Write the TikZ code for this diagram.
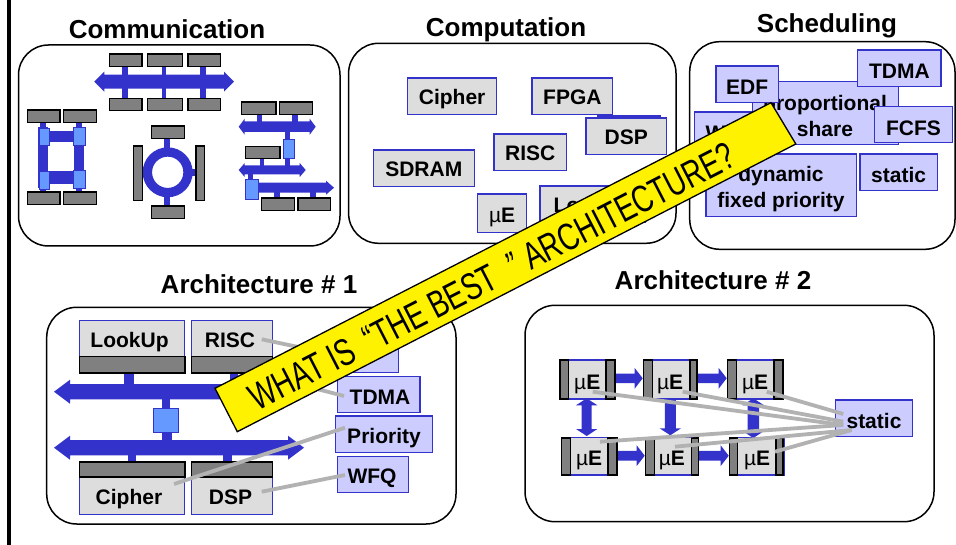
\documentclass[tikz,border=0pt]{standalone}
\usepackage{fontspec}
\setmainfont{Liberation Sans}
\definecolor{busblue}{HTML}{3333CC}
\definecolor{lightblue}{HTML}{6699FF}
\definecolor{lav}{HTML}{CCCCFF}
\definecolor{pegray}{HTML}{DDDDDD}
\definecolor{bargray}{HTML}{808080}
\definecolor{wire}{HTML}{B2B2B2}
\newcommand\ubx[7]{\node[#6,anchor=north west,minimum width={(#4-(#2))*1pt},minimum height={(#5-(#3))*1pt}] (#1) at (#2,#3) {#7};}
\newcommand\hbus[6]{\fill[busblue] (#1,#3) -- (#1+#6,#3-#5) -- (#1+#6,#3-#4) -- (#2-#6,#3-#4) -- (#2-#6,#3-#5) -- (#2,#3) -- (#2-#6,#3+#5) -- (#2-#6,#3+#4) -- (#1+#6,#3+#4) -- (#1+#6,#3+#5) -- cycle;}
\newcommand\rbus[6]{\fill[busblue] (#1,#3-#4) -- (#2-#6,#3-#4) -- (#2-#6,#3-#5) -- (#2,#3) -- (#2-#6,#3+#5) -- (#2-#6,#3+#4) -- (#1,#3+#4) -- cycle;}
\newcommand\vbus[6]{\fill[busblue] (#3,#1) -- (#3-#5,#1+#6) -- (#3-#4,#1+#6) -- (#3-#4,#2-#6) -- (#3-#5,#2-#6) -- (#3,#2) -- (#3+#5,#2-#6) -- (#3+#4,#2-#6) -- (#3+#4,#1+#6) -- (#3+#5,#1+#6) -- cycle;}
\newcommand\dnbus[6]{\fill[busblue] (#3-#4,#1) -- (#3-#4,#2-#6) -- (#3-#5,#2-#6) -- (#3,#2) -- (#3+#5,#2-#6) -- (#3+#4,#2-#6) -- (#3+#4,#1) -- cycle;}
\newcommand\stub[4]{\fill[busblue] (#1,#3) rectangle (#2,#4);}
\newcommand\mue{{\mdseries µ}E}
\tikzset{
 x=1pt,y=-1pt,
 frame/.style={draw=black,line width=1.5pt,rounded corners=30pt,fill=white},
 title/.style={font=\fontsize{26}{29}\selectfont\bfseries,inner sep=0pt,text height=19pt,text depth=0pt},
 lbl/.style={font=\fontsize{21}{25}\selectfont\bfseries,inner sep=0pt,align=center,text=black,text height=15pt,text depth=0pt},
 pe/.style={draw=busblue,line width=1.4pt,fill=pegray,lbl,text height=17pt},
 lowered/.style={text height=19pt},
 sched/.style={draw=busblue,line width=1.4pt,fill=lav,lbl,text height=21pt},
 twoline/.style={font=\fontsize{21}{25}\selectfont\bfseries,inner sep=0pt,align=center,text=black},
 bar/.style={draw=black,line width=1.5pt,fill=bargray,inner sep=0pt},
 ctrl/.style={draw=busblue,line width=1pt,fill=lightblue,inner sep=0pt},
 wireline/.style={draw=wire,line width=3.8pt},
}
\begin{document}
\begin{tikzpicture}
\useasboundingbox (0,0) rectangle (956,545);
\fill[white] (0,0) rectangle (956,545);
\fill[black] (7.3,0) rectangle (10.7,545);

% ---------- Communication
\node[title] (tcomm) at (167,29) {Communication};
\path[frame] (18.5,45) rectangle (340,246);
\hbus{94.3}{234}{81.7}{7}{10}{10}
\stub{122}{128}{65}{98}\stub{162}{166}{65}{98}\stub{200}{206}{65}{98}
\ubx{c1}{108.7}{53.3}{141.3}{65.7}{bar}{}
\ubx{c2}{146.7}{53.3}{181.7}{65.7}{bar}{}
\ubx{c3}{187}{53.3}{219.7}{65.7}{bar}{}
\ubx{c4}{108.7}{97.7}{141.3}{110}{bar}{}
\ubx{c5}{146.7}{97.7}{181.7}{110}{bar}{}
\ubx{c6}{187}{97.7}{219.7}{110}{bar}{}
% square
\stub{40}{46}{122}{127}\stub{76}{82}{122}{127}\stub{40}{46}{188}{192}\stub{76}{82}{188}{192}
\stub{38.3}{48}{127}{188}\stub{74}{84}{127}{188}
\stub{48}{74}{130.7}{142}\stub{48}{74}{170.7}{184}
\ubx{c7}{26.7}{109.3}{59.3}{122}{bar}{}
\ubx{c8}{62.7}{109.3}{95.7}{122}{bar}{}
\ubx{c9}{26.7}{191.3}{59.3}{204}{bar}{}
\ubx{c10}{62.7}{191.3}{95.7}{204}{bar}{}
\ubx{s1}{39.3}{128}{49.3}{144.7}{ctrl}{}
\ubx{s2}{73.3}{127.3}{85.3}{145.3}{ctrl}{}
\ubx{s3}{39.3}{170.7}{48.7}{188.7}{ctrl}{}
\ubx{s4}{73.3}{170}{85.3}{188}{ctrl}{}
% ring
\stub{164.3}{170.3}{138}{150}\stub{164.3}{170.3}{195}{205.3}\stub{141}{146}{169.3}{176}\stub{190}{195}{169.3}{176}
\draw[busblue,line width=9.3pt] (167.7,172.3) circle (20.3);
\ubx{c11}{150.7}{125.3}{183.7}{138}{bar}{}
\ubx{c12}{150.7}{205.3}{183.7}{218}{bar}{}
\ubx{c13}{132.7}{145.3}{141.7}{200}{bar}{}
\ubx{c14}{195}{145.3}{203.7}{200}{bar}{}
% hierarchical
\hbus{238.7}{315.7}{126.7}{5.3}{8}{6}
\hbus{238.7}{305.7}{170}{4.5}{7}{6}
\rbus{250}{334}{187.7}{5}{7}{8}
\stub{256.7}{262}{114}{122}\stub{292.3}{297.7}{114}{122}
\stub{285}{290}{132}{140}\stub{285}{290}{157}{166}
\stub{260}{264.3}{158}{166}\stub{248}{253}{174}{180}
\stub{274.3}{280}{192}{198}\stub{310.3}{316}{192}{198}
\ubx{c15}{240.7}{101.3}{275.3}{114}{bar}{}
\ubx{c16}{278.7}{101.3}{311.7}{114}{bar}{}
\ubx{c17}{244.7}{145.7}{279.3}{158}{bar}{}
\ubx{c18}{260.7}{197.3}{293.7}{210}{bar}{}
\ubx{c19}{297}{197.3}{329.7}{210}{bar}{}
\ubx{s5}{282.7}{139.3}{294}{158}{ctrl}{}
\ubx{s6}{244.7}{179.3}{257.7}{198.7}{ctrl}{}

% ---------- Computation
\node[title] (tcomp) at (506,27.5) {Computation};
\path[frame] (348.6,43.3) rectangle (676,243.3);
\ubx{p1}{406.8}{77.3}{496}{114}{pe}{Cipher}
\ubx{p2}{531.4}{77.3}{612}{114}{pe}{FPGA}
\ubx{p3}{597}{115.3}{660}{130}{pe}{}
\ubx{p4}{585.2}{117.3}{666}{154}{pe}{DSP}
\ubx{p5}{493.2}{133.3}{566}{170}{pe}{RISC}
\ubx{p6}{372.6}{149.3}{473.6}{186}{pe}{SDRAM}
\ubx{p7}{477}{193.3}{525.9}{232}{pe,lowered}{\mue}
\ubx{p8}{539.2}{185.3}{645}{222}{pe}{LookUp}

% ---------- Scheduling
\node[title] (tsch) at (827,23.5) {Scheduling};
\path[frame] (689.7,41.7) rectangle (955,249.3);
\ubx{q1}{751.8}{81}{898}{144}{sched}{}
\node[twoline] (q1t) at (825,116) {proportional\\[1pt]share};
\ubx{q2}{693.6}{111.3}{765}{148}{sched}{WFQ}
\ubx{q3}{715.2}{65.3}{777.7}{102}{sched}{EDF}
\ubx{q4}{857}{49.3}{940.4}{86}{sched}{TDMA}
\ubx{q5}{873.6}{105.7}{952}{142}{sched}{FCFS}
\ubx{q6}{705.4}{153.3}{855.5}{216}{sched}{}
\node[twoline] (q6t) at (781,189.5) {dynamic\\[1pt]fixed priority};
\ubx{q7}{859.4}{153.3}{936.5}{190}{sched}{static}

% ---------- Architecture 1
\node[title] (ta1) at (259,284) {Architecture \# 1};
\path[frame] (46.7,307.3) rectangle (456,524);
\hbus{54}{304}{391.7}{7.7}{12}{16}
\hbus{54}{304}{447.7}{7.7}{12}{16}
\stub{124.3}{134}{372}{384}\stub{230}{238}{372}{384}
\stub{162.3}{170}{398}{408}\stub{162.3}{171.5}{432}{440}
\stub{128.3}{136}{455}{462}\stub{222.7}{232}{455}{462}
\ubx{a1}{78.7}{319.7}{184}{372}{pe}{}
\ubx{a2}{190.7}{319.7}{271.7}{372}{pe}{}
\ubx{a1b}{78.7}{355.7}{184}{372}{bar}{}
\ubx{a2b}{190.7}{355.7}{271.7}{372}{bar}{}
\node[lbl] (a1t) at (129.5,340) {LookUp};
\node[lbl] (a2t) at (230,340) {RISC};
\ubx{ac}{152.7}{407.7}{177.7}{432}{ctrl}{}
\ubx{a3}{78.7}{461.3}{184}{514}{pe}{}
\ubx{a4}{190.7}{461.3}{271.7}{514}{pe}{}
\ubx{a3b}{78.7}{461.3}{184}{476}{bar}{}
\ubx{a4b}{190.7}{461.3}{271.7}{476}{bar}{}
\node[lbl] (a3t) at (129,496.5) {Cipher};
\node[lbl] (a4t) at (230.5,496.5) {DSP};
\ubx{a5}{345}{335}{397.7}{372}{sched}{}
\ubx{a6}{337}{375.7}{419.3}{412}{sched}{}
\ubx{a7}{334.7}{415.3}{431.7}{452}{sched}{}
\ubx{a8}{337}{455.7}{407.7}{492}{sched}{}
\coordinate (w1a) at (261.7,339.3); \coordinate (w1b) at (360,360);
\coordinate (w2a) at (290,382); \coordinate (w2b) at (344,396);
\coordinate (w3a) at (174,484); \coordinate (w3b) at (345,427.7);
\coordinate (w4a) at (261.7,491.7); \coordinate (w4b) at (345,475);
\draw[wireline] (w1a) -- (w1b);
\draw[wireline] (w2a) -- (w2b);
\draw[wireline] (w3a) -- (w3b);
\draw[wireline] (w4a) -- (w4b);
\node[lbl] (a6t) at (380,396.5) {TDMA};
\node[lbl] (a7t) at (384,436) {Priority};
\node[lbl] (a8t) at (372,476) {WFQ};

% ---------- Architecture 2
\node[title] (ta2) at (713,280.5) {Architecture \# 2};
\path[frame] (525,305.3) rectangle (934,521.7);
\rbus{614}{642.7}{378.3}{4.8}{10.3}{8}
\rbus{696}{726.7}{378.3}{4.8}{10.3}{8}
\rbus{616}{644.7}{455.7}{4.8}{10.3}{8}
\rbus{697.7}{728.7}{455.7}{4.8}{10.3}{8}
\vbus{398.3}{436}{586.7}{5}{10.7}{7}
\dnbus{398.3}{435.3}{670.3}{5.5}{10.7}{7}
\vbus{398.3}{438}{753.3}{5.8}{10.8}{7}
\ubx{e1}{559}{359.3}{614}{398.3}{pe,lowered}{\mue}
\ubx{e2}{642.7}{359.3}{696}{398.3}{pe,lowered}{\mue}
\ubx{e3}{726.7}{359.3}{782}{398.3}{pe,lowered}{\mue}
\ubx{e4}{560.7}{437}{616}{474.3}{pe,lowered}{\mue}
\ubx{e5}{644.7}{437}{697.7}{474.3}{pe,lowered}{\mue}
\ubx{e6}{728.7}{437}{784}{474.3}{pe,lowered}{\mue}
\ubx{b1}{559}{359.3}{567.7}{398.3}{bar}{}\ubx{b2}{605}{359.3}{614}{398.3}{bar}{}
\ubx{b3}{642.7}{359.3}{651.7}{398.3}{bar}{}\ubx{b4}{689}{359.3}{696}{398.3}{bar}{}
\ubx{b5}{726.7}{359.3}{735.7}{398.3}{bar}{}\ubx{b6}{773.3}{359.3}{782}{398.3}{bar}{}
\ubx{b7}{560.7}{437}{569.7}{474.3}{bar}{}\ubx{b8}{607}{437}{616}{474.3}{bar}{}
\ubx{b9}{644.7}{437}{653.7}{474.3}{bar}{}\ubx{b10}{690.7}{437}{697.7}{474.3}{bar}{}
\ubx{b11}{728.7}{437}{736.7}{474.3}{bar}{}\ubx{b12}{775.3}{437}{782}{474.3}{bar}{}
\ubx{st}{835}{399.3}{911.7}{435.7}{sched}{}
\coordinate (s1) at (843.3,425); \coordinate (s2) at (843.3,421.7);
\coordinate (s3) at (843.3,414); \coordinate (s4) at (851.7,430);
\coordinate (m1) at (592.7,391.7); \coordinate (m2) at (682.7,391.7);
\coordinate (m3) at (766.7,391.7); \coordinate (m4) at (600,441.7);
\coordinate (m5) at (675,446.7); \coordinate (m6) at (775,451.7);
\draw[wireline] (m1) -- (s1);
\draw[wireline] (m2) -- (s2);
\draw[wireline] (m3) -- (s3);
\draw[wireline] (m4) -- (s1);
\draw[wireline] (m5) -- (s4);
\draw[wireline] (m6) -- (s4);
\node[lbl] (stt) at (874,421) {static};

% ---------- Banner
\fill[yellow,draw=black,line width=1.3pt] (215,388.3) -- (771,102.7) -- (795.8,144) -- (237.3,431.7) -- cycle;
\node[inner sep=0pt,rotate=27.2,font=\fontsize{38}{40}\selectfont,text height=26pt,text depth=0pt] (ban) at (492,276.5) {\addfontfeature{FakeStretch=0.73}WHAT IS\hspace*{15pt}“THE BEST\hspace*{15pt}{\itshape"}\hspace*{10pt}ARCHITECTURE?};
\end{tikzpicture}
\end{document}
